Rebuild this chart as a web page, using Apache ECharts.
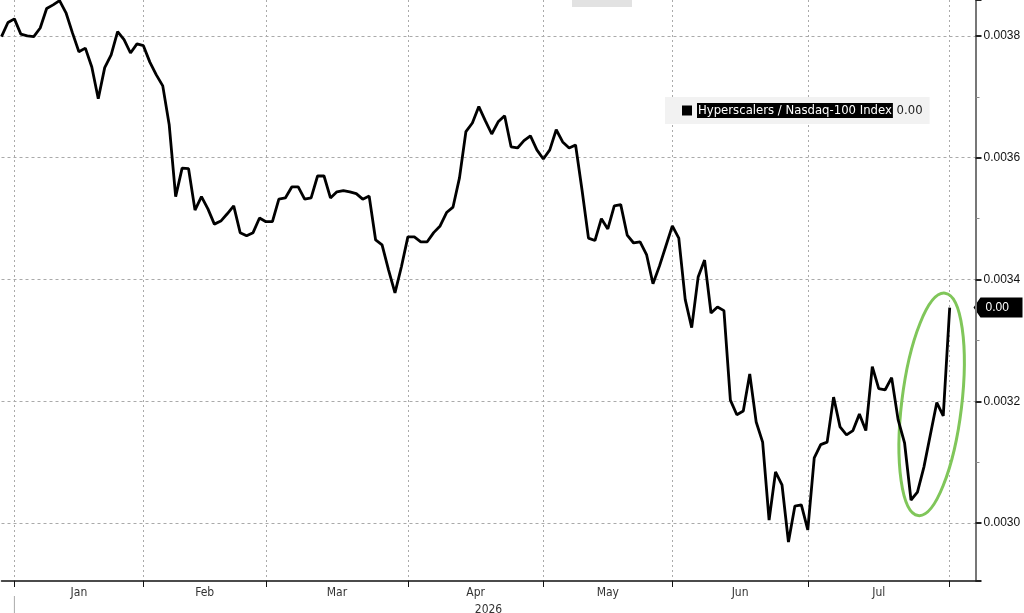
<!DOCTYPE html>
<html><head><meta charset="utf-8">
<script src="https://cdn.jsdelivr.net/npm/echarts@6/dist/echarts.min.js"></script>
<style>html,body{margin:0;padding:0;background:#fff}#c{width:1024px;height:613px}</style>
</head><body><div id="c"></div>
<script>
const seriesName = 'Hyperscalers / Nasdaq-100 Index';
const yearLabel = '2026';
// trading days shown on the axis, grouped by month
const monthKeys = ['2025-12','2026-01','2026-02','2026-03','2026-04','2026-05','2026-06','2026-07','2026-08'];
const monthLabels = ['Dec','Jan','Feb','Mar','Apr','May','Jun','Jul','Aug'];
const tradingDays = [
  [29,30,31],
  [2,5,6,7,8,9,12,13,14,15,16,20,21,22,23,26,27,28,29,30],
  [2,3,4,5,6,9,10,11,12,13,17,18,19,20,23,24,25,26,27],
  [2,3,4,5,6,9,10,11,12,13,16,17,18,19,20,23,24,25,26,27,30,31],
  [1,2,6,7,8,9,10,13,14,15,16,17,20,21,22,23,24,27,28,29,30],
  [1,4,5,6,7,8,11,12,13,14,15,18,19,20,21,22,26,27,28,29],
  [1,2,3,4,5,8,9,10,11,12,15,16,17,18,22,23,24,25,26,29,30],
  [1,2,6,7,8,9,10,13,14,15,16,17,20,21,22,23,24,27,28,29,30,31],
  [3,4,5,6]
];
// Hyperscalers / Nasdaq-100 ratio, one value per trading day from 2025-12-29
const ratio = [
0.003799,0.003822,0.003828,0.003803,0.003800,0.003799,0.003813,0.003845,0.003851,0.003858,
0.003838,0.003805,0.003774,0.003780,0.003749,0.003697,0.003748,0.003769,0.003807,0.003794,
0.003772,0.003787,0.003784,0.003757,0.003736,0.003718,0.003654,0.003536,0.003583,0.003582,
0.003514,0.003536,0.003516,0.003491,0.003496,0.003508,0.003521,0.003477,0.003472,0.003477,
0.003501,0.003495,0.003495,0.003532,0.003534,0.003552,0.003552,0.003532,0.003534,0.003570,
0.003570,0.003534,0.003544,0.003546,0.003544,0.003541,0.003532,0.003537,0.003465,0.003457,
0.003416,0.003378,0.003421,0.003470,0.003470,0.003462,0.003462,0.003477,0.003488,0.003510,
0.003519,0.003567,0.003643,0.003657,0.003684,0.003661,0.003639,0.003659,0.003669,0.003618,
0.003616,0.003628,0.003636,0.003613,0.003598,0.003613,0.003646,0.003626,0.003616,0.003621,
0.003547,0.003468,0.003464,0.003500,0.003483,0.003521,0.003523,0.003473,0.003460,0.003462,
0.003441,0.003393,0.003422,0.003455,0.003488,0.003468,0.003367,0.003321,0.003404,0.003432,
0.003345,0.003355,0.003349,0.003202,0.003178,0.003184,0.003245,0.003166,0.003133,0.003005,
0.003084,0.003063,0.002969,0.003028,0.003030,0.002989,0.003107,0.003129,0.003133,0.003207,
0.003158,0.003145,0.003152,0.003179,0.003152,0.003257,0.003221,0.003219,0.003239,0.003170,
0.003132,0.003038,0.003051,0.003092,0.003145,0.003198,0.003176,0.003354
];
const yMin = 0.002905, yMax = 0.003859;
// highlighted region (data coords): centre index, centre value
const highlightIdx = 144.2, highlightVal = 0.003195;

// ---- build axis helpers ----
const categories = [];
const monthEnd = [];
tradingDays.forEach((days, m) => {
  days.forEach(d => categories.push(monthKeys[m] + '-' + String(d).padStart(2,'0')));
  monthEnd.push(categories.length - 1);
});
const tickSet = new Set(monthEnd.slice(0, 8));
const labelAt = new Map();
for (let m = 1; m <= 7; m++) {
  const mid = (monthEnd[m-1] + monthEnd[m]) / 2;
  labelAt.set(Math.floor(mid), { text: monthLabels[m], half: mid % 1 !== 0 });
}
const lastVal = ratio[ratio.length - 1];
const narrow = "'Liberation Sans Narrow','DejaVu Sans Condensed',sans-serif";
const GRID = { left: 1.5, right: 48.5, top: 0, bottom: 32 };

const chart = echarts.init(document.getElementById('c'), null, { renderer: 'canvas' });
chart.setOption({
  animation: false,
  backgroundColor: '#fff',
  grid: Object.assign({ containLabel: false, outerBoundsMode: 'none' }, GRID),
  legend: {
    left: 665, top: 97,
    backgroundColor: '#f2f2f2',
    padding: [6, 7, 6, 17],
    itemWidth: 10, itemHeight: 10, icon: 'rect',
    selectedMode: false,
    formatter: n => '{n|' + n + '} {v|' + lastVal.toFixed(2) + '}',
    textStyle: {
      fontFamily: 'DejaVu Sans', fontSize: 11.7, color: '#222',
      rich: {
        n: { backgroundColor: '#000', color: '#fff', fontFamily: 'DejaVu Sans', fontSize: 11.7, padding: [2, 1, 1, 1] },
        v: { color: '#222', fontFamily: 'DejaVu Sans', fontSize: 11.7 }
      }
    },
    data: [{ name: seriesName, itemStyle: { color: '#000' } }]
  },
  xAxis: {
    type: 'category',
    data: categories,
    boundaryGap: false,
    name: yearLabel,
    nameLocation: 'middle',
    nameGap: 18,
    nameTextStyle: { fontFamily: narrow, fontSize: 12, color: '#333' },
    axisLine: { lineStyle: { color: '#111', width: 1.5 } },
    axisTick: { interval: i => tickSet.has(i), length: 6, lineStyle: { color: '#111', width: 1 } },
    splitLine: { show: true, interval: i => tickSet.has(i), lineStyle: { color: '#aaa', width: 1, type: [2, 3] } },
    axisLabel: {
      interval: i => labelAt.has(i),
      margin: 6,
      formatter: (v, i) => {
        const L = labelAt.get(i);
        if (!L) return '';
        return L.half ? '{h|' + L.text + '}' : '{m|' + L.text + '}';
      },
      rich: {
        m: { fontFamily: narrow, fontSize: 12, color: '#333' },
        h: { fontFamily: narrow, fontSize: 12, color: '#333', padding: [0, 0, 0, 6.45] }
      }
    }
  },
  yAxis: {
    type: 'value',
    position: 'right',
    min: yMin, max: yMax,
    splitNumber: 5,
    axisLine: { show: true, lineStyle: { color: '#777', width: 2 } },
    axisTick: { show: true, length: 6, lineStyle: { color: '#222', width: 2 } },
    minorTick: { show: true, splitNumber: 2, length: 4, lineStyle: { color: '#888', width: 1 } },
    splitLine: { show: true, showMinLine: false, showMaxLine: false, lineStyle: { color: '#aaa', width: 1, type: [3, 3] } },
    axisLabel: {
      showMinLabel: false, showMaxLabel: false,
      margin: 8,
      formatter: v => v.toFixed(4),
      fontFamily: "'Liberation Sans',sans-serif", fontSize: 12, color: '#111'
    }
  },
  series: [{
    name: seriesName,
    type: 'line',
    data: ratio,
    clip: false,
    showSymbol: false,
    symbol: 'none',
    lineStyle: { color: '#000', width: 2.8 },
    itemStyle: { color: '#000' }
  }]
});

// annotations derived from data coordinates
const p0 = chart.convertToPixel({ xAxisIndex: 0, yAxisIndex: 0 }, [Math.floor(highlightIdx), highlightVal]);
const p1 = chart.convertToPixel({ xAxisIndex: 0, yAxisIndex: 0 }, [Math.floor(highlightIdx) + 1, highlightVal]);
const cx = p0[0] + (p1[0] - p0[0]) * (highlightIdx % 1);
const cy = p0[1];
const jan = chart.convertToPixel({ xAxisIndex: 0 }, monthEnd[0]);
const tagY = chart.convertToPixel({ yAxisIndex: 0 }, lastVal);
const axisX = 1024 - GRID.right;
chart.setOption({
  graphic: [
    { type: 'rect', left: 572, top: 0, shape: { width: 60, height: 7 }, style: { fill: '#e2e2e2' }, silent: true },
    { type: 'group', x: 671, y: 106, silent: true, children: [
      { type: 'rect', shape: { x: 0, y: 0, width: 6, height: 6 }, style: { fill: 'none', stroke: '#aaa', lineWidth: 1 } },
      { type: 'line', shape: { x1: 1.5, y1: 3, x2: 4.5, y2: 3 }, style: { stroke: '#aaa', lineWidth: 1 } },
      { type: 'line', shape: { x1: 3, y1: 1.5, x2: 3, y2: 4.5 }, style: { stroke: '#aaa', lineWidth: 1 } }
    ]},
    { type: 'ellipse', x: cx, y: cy, rotation: -0.12, shape: { cx: 0, cy: 0, rx: 30, ry: 112 },
      style: { fill: 'none', stroke: '#80c65a', lineWidth: 3 }, silent: true },
    { type: 'line', shape: { x1: jan, y1: 596, x2: jan, y2: 613 }, style: { stroke: '#aaa', lineWidth: 1 }, silent: true },
    { type: 'group', x: axisX, y: tagY, silent: true, z: 100, children: [
      { type: 'polygon', shape: { points: [[-2, 0], [5, -10], [47, -10], [47, 10], [5, 10]] }, style: { fill: '#000' } },
      { type: 'text', x: 10, y: 0, style: { text: lastVal.toFixed(2), fill: '#fff', fontSize: 12,
        fontFamily: "'Liberation Sans',sans-serif", verticalAlign: 'middle', align: 'left' } }
    ]}
  ]
});
</script></body></html>
